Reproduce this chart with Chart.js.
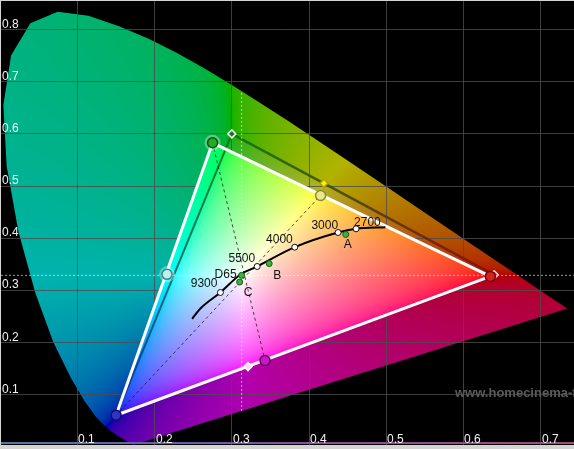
<!DOCTYPE html>
<html lang="en">
<head>
<meta charset="UTF-8">
<title>CIE 1931 gamut</title>
<script src="https://cdn.jsdelivr.net/npm/chart.js"></script>
<style>
  html, body { margin: 0; padding: 0; background: #d4d4d4; }
  #wrap { position: absolute; left: 1px; top: 1px; width: 573px; height: 444px; background: #000; }
  canvas { display: block; background: #000; }
</style>
</head>
<body>
<div id="wrap"><canvas id="cie" width="573" height="444"></canvas></div>
<script>
// spectral locus, CIE 1931 2 deg, 380 -> 700 nm
const locusX = [0.1741, 0.1738, 0.1733, 0.1726, 0.1714, 0.1689, 0.1644, 0.1566, 0.1510, 0.1440, 0.1355, 0.1241,
  0.1096, 0.0913, 0.0687, 0.0454, 0.0235, 0.0082, 0.0039, 0.0139, 0.0389, 0.0743, 0.1142, 0.1547, 0.1929,
  0.2296, 0.2658, 0.3016, 0.3373, 0.3731, 0.4087, 0.4441, 0.4788, 0.5125, 0.5448, 0.5752, 0.6029, 0.6270,
  0.6482, 0.6658, 0.6915, 0.7079, 0.7190, 0.7260, 0.7300, 0.7334, 0.7347];
const locusY = [0.0050, 0.0049, 0.0048, 0.0048, 0.0051, 0.0069, 0.0109, 0.0177, 0.0227, 0.0297, 0.0399, 0.0578,
  0.0868, 0.1327, 0.2007, 0.2950, 0.4127, 0.5384, 0.6548, 0.7502, 0.8120, 0.8338, 0.8262, 0.8059, 0.7816,
  0.7543, 0.7243, 0.6923, 0.6589, 0.6245, 0.5896, 0.5547, 0.5202, 0.4866, 0.4544, 0.4242, 0.3965, 0.3725,
  0.3514, 0.3340, 0.3083, 0.2920, 0.2809, 0.2740, 0.2700, 0.2666, 0.2653];

// order: R, G, B, C, M, Y
const colorNames = ['R', 'G', 'B', 'C', 'M', 'Y'];
const targetX = [0.640, 0.300, 0.150, 0.2246, 0.3209, 0.4193];
const targetY = [0.330, 0.600, 0.060, 0.3287, 0.1542, 0.5053];
const measX = [0.635, 0.275, 0.150, 0.216, 0.343, 0.415];
const measY = [0.327, 0.583, 0.061, 0.331, 0.166, 0.482];

const whiteX = 0.3127;
const whiteY = 0.3290;

const curveX = [0.2486, 0.2593, 0.2852, 0.3111, 0.3328, 0.3815, 0.4377, 0.4610, 0.4990];
const curveY = [0.2458, 0.2655, 0.2962, 0.3307, 0.3460, 0.3830, 0.4111, 0.4182, 0.4213];

const cctLabels = ['9300', '5500', '4000', '3000', '2700'];
const cctX = [0.2852, 0.3328, 0.3815, 0.4377, 0.4610];
const cctY = [0.2962, 0.3460, 0.3830, 0.4111, 0.4182];

const illumLabels = ['D65', 'C', 'B', 'A'];
const illumX = [0.3127, 0.3101, 0.3484, 0.4476];
const illumY = [0.3290, 0.3162, 0.3516, 0.4074];

const xTicks = [0.1, 0.2, 0.3, 0.4, 0.5, 0.6, 0.7];
const xTickLabels = ['0.1', '0.2', '0.3', '0.4', '0.5', '0.6', '0.7'];
const yTicks = [0.1, 0.2, 0.3, 0.4, 0.5, 0.6, 0.7, 0.8];
const yTickLabels = ['0.1', '0.2', '0.3', '0.4', '0.5', '0.6', '0.7', '0.8'];

const X_MIN = 0.00087, X_MAX = 0.74339;
const Y_MIN = 0.00402, Y_MAX = 0.85460;
const FONT = 'Arial, "Liberation Sans", sans-serif';

const pts = (xs, ys) => xs.map((x, i) => ({ x: x, y: ys[i] }));
const pick = (xs, ys, idx) => idx.map(i => ({ x: xs[i], y: ys[i] }));

// xy -> displayable colour, desaturated by adding white when out of sRGB
function gam(c) {
  c = c <= 0.0031308 ? 12.92 * c : 1.055 * Math.pow(c, 1 / 2.4) - 0.055;
  return Math.round(255 * Math.max(0, Math.min(1, c)));
}
function xyToRGB(x, y) {
  const X = x / y, Z = (1 - x - y) / y;
  let r = 3.2406 * X - 1.5372 - 0.4986 * Z;
  let g = -0.9689 * X + 1.8758 + 0.0415 * Z;
  let b = 0.0557 * X - 0.2040 + 1.0570 * Z;
  const m = Math.min(r, g, b);
  if (m < 0) { r -= m; g -= m; b -= m; }
  const M = Math.max(r, g, b);
  return [gam(r / M), gam(g / M), gam(b / M)];
}

function buildImages(chart) {
  const a = chart.chartArea;
  const w = Math.round(a.right - a.left), h = Math.round(a.bottom - a.top);
  const xs = chart.scales.x, ys = chart.scales.y;
  const dim = document.createElement('canvas'), bri = document.createElement('canvas');
  dim.width = bri.width = w; dim.height = bri.height = h;
  const dc = dim.getContext('2d'), bc = bri.getContext('2d');
  const di = dc.createImageData(w, h), bi = bc.createImageData(w, h);
  for (let j = 0; j < h; j++) {
    const yv = ys.getValueForPixel(a.top + j + 0.5);
    if (yv < 0.002) continue;
    for (let i = 0; i < w; i++) {
      const xv = xs.getValueForPixel(a.left + i + 0.5);
      const c = xyToRGB(xv, yv);
      const k = (j * w + i) * 4;
      bi.data[k] = c[0]; bi.data[k + 1] = c[1]; bi.data[k + 2] = c[2]; bi.data[k + 3] = 255;
      di.data[k] = c[0] * 0.7; di.data[k + 1] = c[1] * 0.7; di.data[k + 2] = c[2] * 0.68; di.data[k + 3] = 255;
    }
  }
  dc.putImageData(di, 0, 0);
  bc.putImageData(bi, 0, 0);
  chart.$cie = { dim: dim, bri: bri };
}

function tracePath(ctx, els) {
  ctx.beginPath();
  els.forEach((p, i) => i ? ctx.lineTo(p.x, p.y) : ctx.moveTo(p.x, p.y));
  ctx.closePath();
}

const LOCUS = 0, MEAS = 1;

const ciePlugin = {
  id: 'cie',
  beforeDraw(chart) {
    if (!chart.$cie) buildImages(chart);
    const ctx = chart.ctx, a = chart.chartArea;
    ctx.save();
    tracePath(ctx, chart.getDatasetMeta(LOCUS).data);
    ctx.clip();
    ctx.drawImage(chart.$cie.dim, a.left, a.top);
    ctx.restore();
  },
  beforeDatasetsDraw(chart) {
    const ctx = chart.ctx, a = chart.chartArea;
    ctx.save();
    tracePath(ctx, chart.getDatasetMeta(MEAS).data.slice(0, 3));
    ctx.clip();
    ctx.drawImage(chart.$cie.bri, a.left, a.top);
    ctx.restore();
  },
  afterDatasetsDraw(chart) {
    const ctx = chart.ctx, xs = chart.scales.x, ys = chart.scales.y;
    ctx.save();
    ctx.font = '12px ' + FONT;
    ctx.fillStyle = '#111';
    ctx.textBaseline = 'alphabetic';
    const cctPos = { '9300': ['right', -3, -5], '5500': ['right', -2, -4], '4000': ['right', -2, -4],
      '3000': ['right', 0, -4], '2700': ['left', -2, -3] };
    cctLabels.forEach((t, i) => {
      const s = cctPos[t];
      ctx.textAlign = s[0];
      ctx.fillText(t, xs.getPixelForValue(cctX[i]) + s[1], ys.getPixelForValue(cctY[i]) + s[2]);
    });
    const illPos = { 'D65': ['right', -5, 3], 'C': ['left', 4, 14], 'B': ['left', 4, 15], 'A': ['left', -2, 14] };
    illumLabels.forEach((t, i) => {
      const s = illPos[t];
      ctx.textAlign = s[0];
      ctx.fillText(t, xs.getPixelForValue(illumX[i]) + s[1], ys.getPixelForValue(illumY[i]) + s[2]);
    });
    ctx.restore();
  },
  afterDraw(chart) {
    const ctx = chart.ctx, xs = chart.scales.x, ys = chart.scales.y, a = chart.chartArea;
    ctx.save();
    // bottom colour strip
    const g = ctx.createLinearGradient(a.left, 0, a.right, 0);
    g.addColorStop(0, '#4a7aa8');
    g.addColorStop(0.3, '#6a5ab0');
    g.addColorStop(0.6, '#904c98');
    g.addColorStop(1, '#a04a7c');
    ctx.fillStyle = g;
    ctx.fillRect(a.left, a.bottom - 3, a.right - a.left, 2);
    // watermark
    ctx.font = 'bold 13px ' + FONT;
    ctx.fillStyle = '#5a5a5a';
    ctx.textAlign = 'left';
    ctx.fillText('www.homecinema-fr.com', 454, 396);
    // tick labels
    ctx.font = '12px ' + FONT;
    ctx.fillStyle = '#f2f2f2';
    yTicks.forEach((v, i) => ctx.fillText(yTickLabels[i], a.left + 1, Math.round(ys.getPixelForValue(v)) - 2));
    xTicks.forEach((v, i) => ctx.fillText(xTickLabels[i], Math.round(xs.getPixelForValue(v)) + 1, a.bottom - 2));
    ctx.restore();
  }
};

// where the D65 vertical meets the locus (purple line below, spectrum above)
const n = locusX.length - 1;
const purpleY = locusY[0] + (whiteX - locusX[0]) * (locusY[n] - locusY[0]) / (locusX[n] - locusX[0]);
let topY = whiteY;
for (let i = 20; i < n; i++) {
  if (locusX[i] <= whiteX && locusX[i + 1] > whiteX) {
    topY = locusY[i] + (whiteX - locusX[i]) * (locusY[i + 1] - locusY[i]) / (locusX[i + 1] - locusX[i]);
  }
}

const targetEdgeColors = ['rgba(10,110,30,0.85)', 'rgba(140,12,12,0.9)', 'rgba(30,30,120,0.7)', 'rgba(10,110,30,0.85)'];

const datasets = [
  { // 0 locus, used as clip
    data: pts(locusX, locusY), showLine: false, pointRadius: 0, borderWidth: 0, order: 20
  },
  { // 1 measured primaries / secondaries
    data: pts(measX, measY), showLine: false, order: 0,
    pointRadius: 5, pointBorderWidth: 1.5,
    pointBackgroundColor: ['#d42222', '#2aa82a', '#3232c8', '#bfeeee', '#c818c8', '#e8e88e'],
    pointBorderColor: ['#6e0a0a', '#0c560c', '#10105e', '#3a8a8a', '#600a60', '#8a8a30']
  },
  { // soft halo behind cyan and green measurements
    data: pick(measX, measY, [1, 3]), showLine: false, pointRadius: 8, pointBorderWidth: 0,
    pointBackgroundColor: 'rgba(235,255,245,0.35)', order: 1
  },
  { // target triangle
    data: pick(targetX, targetY, [1, 0, 2, 1]), showLine: true, pointRadius: 0, borderWidth: 2.5, order: 9,
    segment: {
      borderColor: c => {
        const gr = c.chart.ctx.createLinearGradient(c.p0.x, c.p0.y, c.p1.x, c.p1.y);
        gr.addColorStop(0, targetEdgeColors[c.p0DataIndex]);
        gr.addColorStop(1, targetEdgeColors[c.p1DataIndex]);
        return gr;
      },
      borderWidth: c => c.p0DataIndex === 2 ? 2 : 2.5
    }
  },
  { // crosshair through D65
    data: [{ x: X_MIN, y: whiteY }, { x: X_MAX, y: whiteY }], showLine: true, pointRadius: 0,
    borderColor: 'rgba(255,255,255,0.6)', borderWidth: 1, borderDash: [2, 2], order: 8
  },
  {
    data: [{ x: whiteX, y: purpleY }, { x: whiteX, y: topY }], showLine: true, pointRadius: 0,
    borderColor: 'rgba(255,255,255,0.6)', borderWidth: 1, borderDash: [2, 2], order: 8
  },
  { // complementary dashed lines
    data: pick(measX, measY, [1, 4]), showLine: true, pointRadius: 0,
    borderColor: 'rgba(20,20,20,0.75)', borderWidth: 1, borderDash: [3, 3], order: 7
  },
  {
    data: pick(measX, measY, [2, 5]), showLine: true, pointRadius: 0,
    borderColor: 'rgba(20,20,20,0.75)', borderWidth: 1, borderDash: [3, 3], order: 7
  },
  { // measured gamut triangle
    data: pick(measX, measY, [2, 1, 0, 2]), showLine: true, pointRadius: 0,
    borderColor: '#ffffff', borderWidth: 3, order: 6
  },
  { // black body / daylight curve
    data: pts(curveX, curveY), showLine: true, pointRadius: 0, cubicInterpolationMode: 'monotone',
    borderColor: '#000', borderWidth: 2, order: 5
  },
  { // CCT marks
    data: pts(cctX, cctY), showLine: false, pointRadius: 3, pointBorderWidth: 1,
    pointBackgroundColor: '#fff', pointBorderColor: '#111', order: 4
  },
  { // standard illuminants
    data: pts(illumX, illumY), showLine: false, pointRadius: 3, pointBorderWidth: 1,
    pointBackgroundColor: '#3cb43c', pointBorderColor: '#145a14', order: 3
  },
  { // target points
    data: pick(targetX, targetY, [0, 1, 4, 5]), showLine: false, pointStyle: 'rectRot', pointRadius: 4,
    pointBorderWidth: 1.5,
    pointBackgroundColor: ['#e04040', '#2a6a2a', '#f4d8f4', '#f0f020'],
    pointBorderColor: ['#f8d0d0', '#e8ffe8', '#ffffff', '#b0a000'], order: 2
  }
];

new Chart(document.getElementById('cie').getContext('2d'), {
  type: 'scatter',
  data: { datasets: datasets },
  options: {
    responsive: false,
    animation: false,
    events: [],
    layout: { padding: 0, autoPadding: false },
    plugins: { legend: { display: false }, tooltip: { enabled: false } },
    scales: {
      x: {
        type: 'linear', min: X_MIN, max: X_MAX,
        afterBuildTicks: s => { s.ticks = xTicks.map(v => ({ value: v })); },
        ticks: { display: false },
        grid: { color: 'rgba(76,76,76,0.8)', drawTicks: false, lineWidth: 1 },
        border: { display: false }
      },
      y: {
        type: 'linear', min: Y_MIN, max: Y_MAX,
        afterBuildTicks: s => { s.ticks = yTicks.map(v => ({ value: v })); },
        ticks: { display: false },
        grid: { color: 'rgba(76,76,76,0.8)', drawTicks: false, lineWidth: 1 },
        border: { display: false }
      }
    }
  },
  plugins: [ciePlugin]
});
</script>
</body>
</html>
